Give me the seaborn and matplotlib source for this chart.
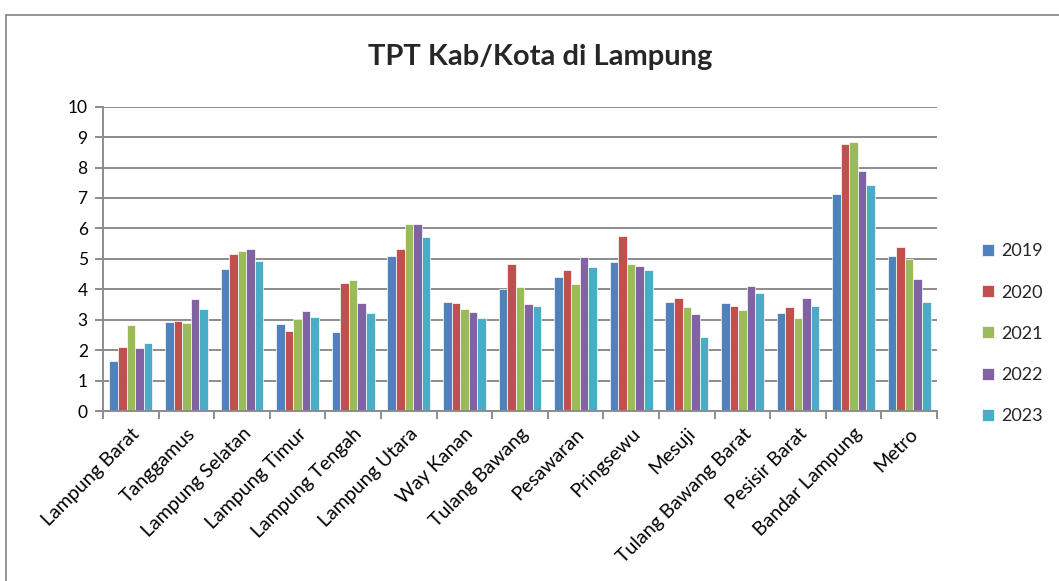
import matplotlib
matplotlib.use("Agg")
import matplotlib.pyplot as plt
import seaborn as sns
import pandas as pd
from matplotlib.ticker import FixedLocator
from matplotlib.lines import Line2D

categories = ["Lampung Barat", "Tanggamus", "Lampung Selatan", "Lampung Timur",
              "Lampung Tengah", "Lampung Utara", "Way Kanan", "Tulang Bawang",
              "Pesawaran", "Pringsewu", "Mesuji", "Tulang Bawang Barat",
              "Pesisir Barat", "Bandar Lampung", "Metro"]
years = ["2019", "2020", "2021", "2022", "2023"]
v2019 = [1.64, 2.94, 4.68, 2.85, 2.58, 5.09, 3.58, 4.01, 4.39, 4.90, 3.59, 3.56, 3.23, 7.14, 5.10]
v2020 = [2.10, 2.96, 5.17, 2.62, 4.21, 5.33, 3.54, 4.82, 4.63, 5.76, 3.70, 3.44, 3.41, 8.78, 5.39]
v2021 = [2.83, 2.90, 5.27, 3.03, 4.29, 6.13, 3.34, 4.07, 4.17, 4.83, 3.41, 3.33, 3.06, 8.84, 4.99]
v2022 = [2.08, 3.68, 5.31, 3.29, 3.54, 6.14, 3.25, 3.50, 5.05, 4.75, 3.20, 4.10, 3.71, 7.90, 4.33]
v2023 = [2.23, 3.34, 4.94, 3.08, 3.23, 5.72, 3.06, 3.44, 4.74, 4.65, 2.44, 3.87, 3.45, 7.43, 3.58]
colors = ["#4F81BD", "#C0504D", "#9BBB59", "#8064A2", "#4BACC6"]
title = "TPT Kab/Kota di Lampung"

series = [v2019, v2020, v2021, v2022, v2023]
rows = []
for y, vals in zip(years, series):
    for c, v in zip(categories, vals):
        rows.append({"Kab/Kota": c, "Tahun": y, "TPT": v})
df = pd.DataFrame(rows)

sns.set_theme(style="white")
plt.rcParams['font.family'] = ['Lato', 'DejaVu Sans']

fig = plt.figure(figsize=(10.59, 5.81), dpi=100)
ax = fig.add_axes([103/1059, 1-411/581, (937-103)/1059, (411-106.7)/581])

sns.barplot(data=df, x="Kab/Kota", y="TPT", hue="Tahun", order=categories,
            hue_order=years, palette=colors, saturation=1, width=0.77,
            edgecolor="white", linewidth=0.5, ax=ax)

ax.set_ylim(0, 10)
ax.set_xlim(-0.5, len(categories) - 0.5)
ax.set_yticks(range(0, 11))
ax.yaxis.grid(True, color="#8C8C8C", linewidth=1.4)
ax.set_axisbelow(True)
for s in ["top", "right"]:
    ax.spines[s].set_visible(False)
for s in ["left", "bottom"]:
    ax.spines[s].set_color("#8C8C8C")
    ax.spines[s].set_linewidth(1.4)
ax.set_xlabel("")
ax.set_ylabel("")
ax.tick_params(axis="y", which="major", left=True, length=6, width=1.4,
               color="#8C8C8C", labelsize=12.5, labelcolor="black", pad=5)
ax.tick_params(axis="x", which="major", bottom=False, labelsize=14,
               labelcolor="black", pad=4)
ax.xaxis.set_minor_locator(FixedLocator([i - 0.5 for i in range(len(categories) + 1)]))
ax.tick_params(axis="x", which="minor", bottom=True, length=6, width=1.4,
               color="#8C8C8C")
plt.setp(ax.get_xticklabels(), rotation=45, ha="right", rotation_mode="anchor")

handles, labels = ax.get_legend_handles_labels()
ax.legend(handles, labels, loc="upper left", bbox_to_anchor=(975/1059, 1-236/581),
          bbox_transform=fig.transFigure, frameon=False, fontsize=13,
          handlelength=0.65, handleheight=0.65, handletextpad=0.4,
          labelspacing=1.4, borderaxespad=0)

fig.text(540/1059, 1-57/581, title, ha="center", va="center",
         fontsize=21, fontweight="bold")

fig.add_artist(Line2D([5.5/1059, 1], [1-14.5/581, 1-14.5/581], transform=fig.transFigure,
                      color="#8C8C8C", linewidth=1.3))
fig.add_artist(Line2D([5.5/1059, 5.5/1059], [0, 1-14.5/581], transform=fig.transFigure,
                      color="#8C8C8C", linewidth=1.3))

fig.savefig("out.png", dpi=100, facecolor="white")
